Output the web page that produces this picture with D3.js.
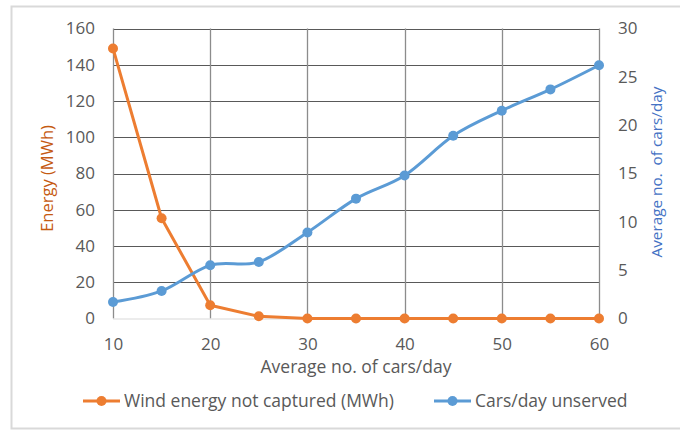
<!DOCTYPE html>
<html>
<head>
<meta charset="utf-8">
<script src="https://cdn.jsdelivr.net/npm/d3@7"></script>
<style>
  body { margin: 0; background: #fff; }
  text { font-family: "Open Sans", sans-serif; }
</style>
</head>
<body>
<div id="chart"></div>
<script>
// data
const carsPerDay = [10, 15, 20, 25, 30, 35, 40, 45, 50, 55, 60];
const windNotCaptured = [149, 55.3, 7.3, 1.2, 0, 0, 0, 0, 0, 0, 0];
const carsUnserved = [1.7, 2.85, 5.5, 5.85, 8.9, 12.4, 14.8, 18.9, 21.5, 23.7, 26.2];
const xTicks = [10, 20, 30, 40, 50, 60];
const leftTicks = [0, 20, 40, 60, 80, 100, 120, 140, 160];
const rightTicks = [0, 5, 10, 15, 20, 25, 30];
const seriesNames = ["Wind energy not captured (MWh)", "Cars/day unserved"];

const W = 680, H = 430;
const orange = "#ED7D31", blue = "#5B9BD5";
const plot = { left: 113, right: 599, top: 28.5, bottom: 318.5 };

const svg = d3.select("#chart").append("svg")
    .attr("width", W)
    .attr("height", H);

// chart frame (right edge runs off the page)
svg.append("rect")
    .attr("x", 11.5).attr("y", 6.5)
    .attr("width", 700).attr("height", 422)
    .attr("fill", "#fff")
    .attr("stroke", "#d9d9d9")
    .attr("stroke-width", 2);

const x = d3.scaleLinear().domain([10, 60]).range([plot.left, plot.right]);
const yL = d3.scaleLinear().domain([0, 160]).range([plot.bottom, plot.top]);
const yR = d3.scaleLinear().domain([0, 30]).range([plot.bottom, plot.top]);

// gridlines
svg.append("g")
    .selectAll("line")
    .data(leftTicks.filter(d => d > 0))
    .join("line")
    .attr("x1", plot.left).attr("x2", plot.right)
    .attr("y1", d => Math.round(yL(d)) + 0.5)
    .attr("y2", d => Math.round(yL(d)) + 0.5)
    .attr("stroke", "#595959")
    .attr("stroke-width", 1);

svg.append("g")
    .selectAll("line")
    .data(xTicks)
    .join("line")
    .attr("x1", d => Math.round(x(d)) + 0.5)
    .attr("x2", d => Math.round(x(d)) + 0.5)
    .attr("y1", plot.top).attr("y2", plot.bottom)
    .attr("stroke", "#8c8c8c")
    .attr("stroke-width", 1.3);

// baseline
svg.append("line")
    .attr("x1", plot.left).attr("x2", plot.right)
    .attr("y1", plot.bottom + 0.5).attr("y2", plot.bottom + 0.5)
    .attr("stroke", "#d9d9d9")
    .attr("stroke-width", 1);

// axes (labels only, Excel style)
const tickFont = 17;
const axisLeft = svg.append("g")
    .attr("transform", `translate(${plot.left},0)`)
    .call(d3.axisLeft(yL).tickValues(leftTicks).tickSize(0).tickPadding(18));
const axisRight = svg.append("g")
    .attr("transform", `translate(${plot.right},0)`)
    .call(d3.axisRight(yR).tickValues(rightTicks).tickSize(0).tickPadding(19));
const axisBottom = svg.append("g")
    .attr("transform", `translate(0,${plot.bottom})`)
    .call(d3.axisBottom(x).tickValues(xTicks).tickSize(0).tickPadding(19));

[axisLeft, axisRight, axisBottom].forEach(g => {
    g.select(".domain").remove();
    g.selectAll("text")
        .attr("fill", "#595959")
        .style("font-size", tickFont + "px")
        .style("font-family", "'Open Sans', sans-serif");
});

// axis titles
svg.append("text")
    .attr("transform", `translate(53,${(plot.top + plot.bottom) / 2 + 5}) rotate(-90)`)
    .attr("text-anchor", "middle")
    .attr("fill", "#C55A11")
    .style("font-size", "16.5px")
    .text("Energy (MWh)");

svg.append("text")
    .attr("transform", `translate(662,172) rotate(-90)`)
    .attr("text-anchor", "middle")
    .attr("fill", "#4472C4")
    .style("font-size", "15.3px")
    .style("white-space", "pre")
    .text("Average no.  of cars/day");

svg.append("text")
    .attr("x", (plot.left + plot.right) / 2)
    .attr("y", 373)
    .attr("text-anchor", "middle")
    .attr("fill", "#595959")
    .style("font-size", "17.5px")
    .text("Average no. of cars/day");

// series
const series = [
    { name: seriesNames[0], color: orange, values: windNotCaptured, y: yL, curve: d3.curveLinear },
    { name: seriesNames[1], color: blue, values: carsUnserved, y: yR, curve: d3.curveCatmullRom.alpha(0) }
];

series.forEach(s => {
    const pts = carsPerDay.map((c, i) => [c, s.values[i]]);
    const line = d3.line()
        .x(d => x(d[0]))
        .y(d => s.y(d[1]))
        .curve(s.curve);
    svg.append("path")
        .datum(pts)
        .attr("d", line)
        .attr("fill", "none")
        .attr("stroke", s.color)
        .attr("stroke-width", 3)
        .attr("stroke-linejoin", "round")
        .attr("stroke-linecap", "round");
    svg.append("g")
        .selectAll("circle")
        .data(pts)
        .join("circle")
        .attr("cx", d => x(d[0]))
        .attr("cy", d => s.y(d[1]))
        .attr("r", 5)
        .attr("fill", s.color);
});

// legend
const legendX = [83, 434];
const legend = svg.append("g");
series.forEach((s, i) => {
    const g = legend.append("g").attr("transform", `translate(${legendX[i]},401)`);
    g.append("line")
        .attr("x1", 0).attr("x2", 37)
        .attr("stroke", s.color)
        .attr("stroke-width", 3);
    g.append("circle")
        .attr("cx", 18.5).attr("r", 5)
        .attr("fill", s.color);
    g.append("text")
        .attr("x", 41)
        .attr("y", 6)
        .attr("fill", "#595959")
        .style("font-size", "17.5px")
        .text(s.name);
});
</script>
</body>
</html>
